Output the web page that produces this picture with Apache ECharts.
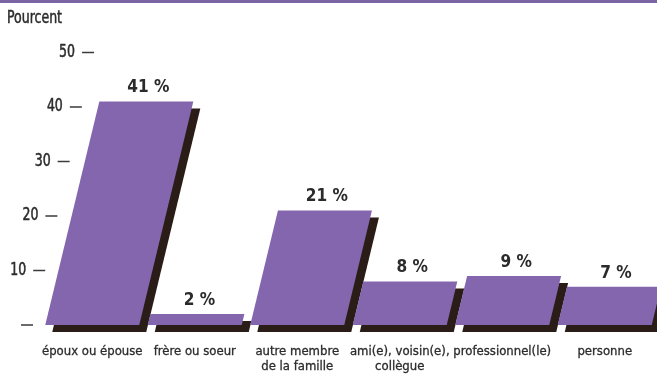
<!DOCTYPE html>
<html>
<head>
<meta charset="utf-8">
<script src="https://cdn.jsdelivr.net/npm/echarts@6/dist/echarts.min.js"></script>
<style>
  html, body { margin: 0; padding: 0; background: #ffffff; }
  #chart { width: 657px; height: 378px; }
</style>
</head>
<body>
<div id="chart"></div>
<script>
// Who the respondents turn to (percent)
const categories = [
  'époux ou épouse',
  'frère ou soeur',
  'autre membre\nde la famille',
  'ami(e), voisin(e),\ncollègue',
  'professionnel(le)',
  'personne'
];
const values = [41, 2, 21, 8, 9, 7];

// Y-axis ticks drawn as slanted "—" marks
const yTicks = [0, 10, 20, 30, 40, 50];
const yTickLabels = ['', '10', '20', '30', '40', '50'];

const PURPLE = '#8466ae';
const SHADOW = '#2a1c16';
const TEXT = '#2b2b2b';
const FONT = "'DejaVu Sans Condensed', sans-serif";
const BAR_RATIO = 0.917;   // bar width as a share of the category band
const SLANT = 0.242;       // horizontal shift per pixel of bar height
const AXIS_SLANT = 0.224;  // horizontal shift of tick marks per pixel
const SHADOW_DX = 7, SHADOW_DY = 7;

function renderBar(params, api) {
  const idx = api.value(0);
  const v = api.value(1);
  const base = api.coord([idx, 0]);
  const top = api.coord([idx, v]);
  const bw = api.size([1, 0])[0] * BAR_RATIO;
  const s = (base[1] - top[1]) * SLANT;
  const x0 = base[0] - bw / 2;
  const pts = [
    [x0, base[1]],
    [x0 + bw, base[1]],
    [x0 + bw + s, top[1]],
    [x0 + s, top[1]]
  ];
  const shadowPts = pts.map(p => [p[0] + SHADOW_DX, p[1] + SHADOW_DY]);
  return {
    type: 'group',
    children: [
      { type: 'polygon', shape: { points: shadowPts }, style: { fill: SHADOW } },
      { type: 'polygon', shape: { points: pts }, style: { fill: PURPLE } },
      {
        type: 'text',
        x: x0 + s + bw / 2 + 2,
        y: top[1] - 5,
        scaleX: 0.95,
        style: {
          text: v + ' %',
          font: 'bold 18px ' + FONT,
          fill: TEXT,
          align: 'center',
          verticalAlign: 'bottom'
        }
      }
    ]
  };
}

function renderTick(params, api) {
  const v = api.value(1);
  const baseY = api.coord([0, 0])[1];
  const y = api.coord([0, v])[1];
  const shift = (baseY - y) * AXIS_SLANT;
  const label = yTickLabels[params.dataIndex];
  return {
    type: 'group',
    children: [
      {
        type: 'line',
        shape: { x1: 21 + shift, y1: y, x2: 33 + shift, y2: y },
        style: { stroke: '#3a3a3a', lineWidth: 1.5 }
      },
      {
        type: 'text',
        x: 14 + shift,
        y: y,
        scaleX: 0.82,
        style: {
          text: label,
          font: '17px ' + FONT,
          fill: TEXT,
          stroke: TEXT,
          lineWidth: 0.5,
          align: 'right',
          verticalAlign: 'middle'
        }
      }
    ]
  };
}

const chart = echarts.init(document.getElementById('chart'));
chart.setOption({
  animation: false,
  backgroundColor: '#ffffff',
  graphic: [
    { type: 'rect', left: 0, top: 0, shape: { width: 657, height: 3 }, style: { fill: '#7a64a6' } },
    {
      type: 'text', x: 7, y: 19, scaleX: 0.82,
      style: {
        text: 'Pourcent', font: '17px ' + FONT, fill: TEXT,
        stroke: TEXT, lineWidth: 0.5, verticalAlign: 'middle'
      }
    }
  ],
  grid: { left: 41, width: 615, top: 52.5, bottom: 53 },
  xAxis: {
    type: 'category',
    data: categories,
    boundaryGap: true,
    axisLine: { show: false },
    axisTick: { show: false },
    axisLabel: {
      interval: 0,
      margin: 19,
      fontSize: 13,
      lineHeight: 15,
      fontFamily: FONT,
      color: TEXT,
      textBorderColor: TEXT,
      textBorderWidth: 0.3,
      verticalAlign: 'top'
    }
  },
  yAxis: {
    type: 'value',
    min: 0,
    max: 50,
    interval: 10,
    show: false
  },
  series: [
    {
      type: 'custom',
      renderItem: renderTick,
      data: yTicks.map(t => [0, t]),
      silent: true,
      z: 1
    },
    {
      type: 'custom',
      renderItem: renderBar,
      data: values.map((v, i) => [i, v]),
      z: 2
    }
  ]
});
</script>
</body>
</html>
